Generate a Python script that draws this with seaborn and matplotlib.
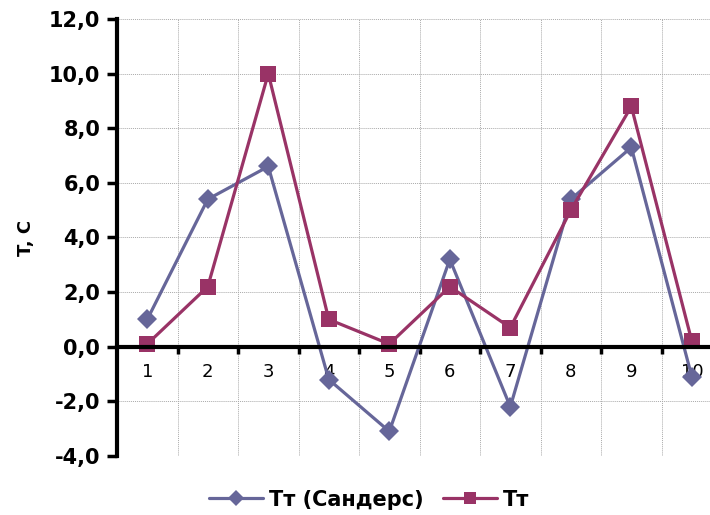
import matplotlib
matplotlib.use("Agg")
import matplotlib.pyplot as plt
import seaborn as sns
import pandas as pd
from matplotlib.ticker import FixedLocator, FuncFormatter
from matplotlib.lines import Line2D

categories = [1, 2, 3, 4, 5, 6, 7, 8, 9, 10]
sanders = [1.0, 5.4, 6.6, -1.2, -3.1, 3.2, -2.2, 5.4, 7.3, -1.1]
tt = [0.1, 2.2, 10.0, 1.0, 0.1, 2.2, 0.7, 5.0, 8.8, 0.2]
series_names = ["Тт (Сандерс)", "Тт"]
y_ticks = [-4, -2, 0, 2, 4, 6, 8, 10, 12]

df = pd.DataFrame({
    "x": categories * 2,
    "y": sanders + tt,
    "series": [series_names[0]] * len(categories) + [series_names[1]] * len(categories),
})

sns.set_style("white")
plt.rcParams['font.family'] = ['DejaVu Sans']
plt.rcParams['text.color'] = 'black'

fig = plt.figure(figsize=(7.10, 5.15), dpi=100)
ax = fig.add_axes([0.1648, 0.1146, 0.8352, 0.8485])

palette = {series_names[0]: "#666699", series_names[1]: "#993366"}
sns.lineplot(data=df, x="x", y="y", hue="series", style="series",
             markers={series_names[0]: "D", series_names[1]: "s"},
             dashes=False, palette=palette, linewidth=2.3,
             markeredgewidth=0, ax=ax, legend=False)
for line in ax.lines:
    if line.get_marker() == "D":
        line.set_markersize(10)
    else:
        line.set_markersize(12)

ax.set_xlim(0.5, 10.3)
ax.set_ylim(-4, 12)

ax.yaxis.set_major_locator(FixedLocator(y_ticks))
ax.yaxis.set_major_formatter(FuncFormatter(lambda v, p: f"{v:.1f}".replace(".", ",")))
ax.tick_params(axis="y", which="major", direction="out", length=7, width=2.5,
               labelsize=15, pad=5, left=True, color="black", labelcolor="black")
for lab in ax.get_yticklabels():
    lab.set_fontweight("bold")

ax.xaxis.set_major_locator(FixedLocator([c + 0.5 for c in categories]))
ax.xaxis.set_major_formatter(FuncFormatter(lambda v, p: ""))
ax.xaxis.set_minor_locator(FixedLocator(categories))
ax.xaxis.set_minor_formatter(FuncFormatter(lambda v, p: f"{int(round(v))}"))
ax.tick_params(axis="x", which="major", direction="out", length=5, width=2.5,
               bottom=True, color="black")
ax.tick_params(axis="x", which="minor", length=0, labelsize=13, pad=12, labelcolor="black")

ax.spines["bottom"].set_position(("data", 0))
for s in ("bottom", "left"):
    ax.spines[s].set_linewidth(3)
    ax.spines[s].set_color("black")
ax.spines["top"].set_visible(False)
ax.spines["right"].set_visible(False)

ax.grid(True, which="major", axis="both", color="#aaaaaa", linestyle=(0, (1, 1)), linewidth=0.7)
ax.set_axisbelow(True)

ax.set_xlabel("")
ax.set_ylabel("T, C", fontsize=13, fontweight="bold", labelpad=10, color="black")

handles = [
    Line2D([], [], color="#666699", marker="D", markersize=8, linewidth=2.3, markeredgewidth=0),
    Line2D([], [], color="#993366", marker="s", markersize=9, linewidth=2.3, markeredgewidth=0),
]
leg = fig.legend(handles, series_names, loc="center", bbox_to_anchor=(0.52, 0.03), ncol=2,
                 frameon=False, prop={"size": 15, "weight": "bold"}, handlelength=2.6,
                 columnspacing=0.9, handletextpad=0.3)
for t in leg.get_texts():
    t.set_color("black")

fig.savefig("out.png", dpi=100)
